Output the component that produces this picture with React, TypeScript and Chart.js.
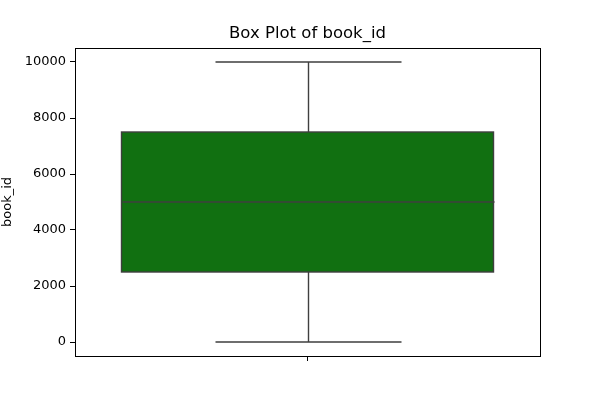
import React, { useEffect, useRef } from "react";
import { Chart, registerables } from "chart.js";

Chart.register(...registerables);

const categories = ["book_id"];
const minValues = [1];
const q1Values = [2500];
const medianValues = [5000];
const q3Values = [7500];
const maxValues = [10000];
const yTickValues = [0, 2000, 4000, 6000, 8000, 10000];

const FONT = "'DejaVu Sans', sans-serif";
const EDGE = "#3f3f3f";

const boxPlugin = {
  id: "boxWhiskers",
  afterDatasetsDraw(chart: any) {
    const { ctx, chartArea } = chart;
    const meta = chart.getDatasetMeta(0);
    const y = chart.scales.y;
    ctx.save();
    meta.data.forEach((bar: any, i: number) => {
      const cx = Math.round(bar.x) + 0.5;
      const half = bar.width / 2;
      const capHalf = half / 2;
      ctx.strokeStyle = EDGE;
      ctx.lineWidth = 1.4;
      ctx.beginPath();
      ctx.moveTo(cx - half, y.getPixelForValue(medianValues[i]));
      ctx.lineTo(cx + half, y.getPixelForValue(medianValues[i]));
      ctx.moveTo(cx, y.getPixelForValue(q3Values[i]));
      ctx.lineTo(cx, y.getPixelForValue(maxValues[i]));
      ctx.moveTo(cx - capHalf, y.getPixelForValue(maxValues[i]));
      ctx.lineTo(cx + capHalf, y.getPixelForValue(maxValues[i]));
      ctx.moveTo(cx, y.getPixelForValue(q1Values[i]));
      ctx.lineTo(cx, y.getPixelForValue(minValues[i]));
      ctx.moveTo(cx - capHalf, y.getPixelForValue(minValues[i]));
      ctx.lineTo(cx + capHalf, y.getPixelForValue(minValues[i]));
      ctx.stroke();
      // box outline
      const top = y.getPixelForValue(q3Values[i]);
      const bottom = y.getPixelForValue(q1Values[i]);
      ctx.strokeRect(bar.x - half, top, bar.width, bottom - top);
    });
    ctx.strokeStyle = "#000";
    ctx.lineWidth = 1;
    ctx.strokeRect(
      Math.round(chartArea.left) + 0.5,
      Math.round(chartArea.top) + 0.5,
      Math.round(chartArea.right - chartArea.left),
      Math.round(chartArea.bottom - chartArea.top)
    );
    ctx.restore();
  },
};

export default function App() {
  const ref = useRef<HTMLCanvasElement>(null);
  useEffect(() => {
    if (!ref.current) return;
    const chart = new Chart(ref.current, {
      type: "bar",
      data: {
        labels: categories.map(() => ""),
        datasets: [
          {
            label: "book_id",
            data: q1Values.map((q, i) => [q, q3Values[i]]),
            backgroundColor: "rgb(17,112,17)",
            borderWidth: 0,
            barPercentage: 0.8,
            categoryPercentage: 1,
          },
        ],
      },
      options: {
        animation: false,
        responsive: false,
        layout: { padding: { left: 0, right: 60, top: 0, bottom: 0 } },
        plugins: {
          legend: { display: false },
          tooltip: { enabled: false },
          title: {
            display: true,
            fullSize: false,
            text: "Box Plot of book_id",
            color: "#000",
            font: { family: FONT, size: 16.5, weight: "normal" },
            padding: { top: 24, bottom: 4.2 },
          },
        },
        scales: {
          x: {
            offset: true,
            grid: {
              offset: false,
              drawOnChartArea: false,
              drawTicks: true,
              tickLength: 5,
              color: "#000",
            },
            border: { display: true, color: "#000" },
            ticks: { display: true, font: { family: FONT, size: 13 }, color: "#000" },
            afterFit(scale: any) {
              scale.height = 44;
            },
          },
          y: {
            min: -500,
            max: 10500,
            grid: {
              drawOnChartArea: false,
              drawTicks: true,
              tickLength: 5,
              color: "#000",
            },
            border: { display: true, color: "#000" },
            ticks: {
              font: { family: FONT, size: 13 },
              color: "#000",
              padding: 4,
              callback: (v: any) => String(v),
            },
            afterBuildTicks(scale: any) {
              scale.ticks = yTickValues.map((v) => ({ value: v }));
            },
            title: {
              display: true,
              text: "book_id",
              color: "#000",
              font: { family: FONT, size: 13 },
              padding: { top: 0, bottom: 0 },
            },
            afterFit(scale: any) {
              scale.width = 75;
            },
          },
        },
      },
      plugins: [boxPlugin],
    });
    return () => chart.destroy();
  }, []);
  return (
    <div style={{ position: "fixed", left: 0, top: 0, width: 600, height: 400, background: "#fff" }}>
      <canvas ref={ref} width={600} height={400} style={{ width: 600, height: 400 }} />
    </div>
  );
}
